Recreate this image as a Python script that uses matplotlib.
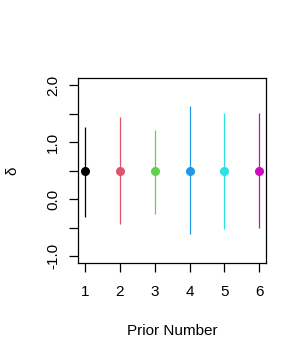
import matplotlib
matplotlib.use("Agg")
import matplotlib.pyplot as plt
import numpy as np

# R default palette (4.x)
COLORS = ["#000000", "#DF536B", "#61D04F", "#2297E6", "#28E2E5", "#CD0BBC"]

plt.rcParams.update({
    "font.family": ["Liberation Sans", "DejaVu Sans"],
    "font.size": 11,
    "axes.unicode_minus": False,
})

# ── Data ─────────────────────────────────────────────────────────────
prior = [1, 2, 3, 4, 5, 6]
delta_est = [0.49, 0.49, 0.49, 0.49, 0.49, 0.49]
delta_lo = [-0.31, -0.44, -0.26, -0.61, -0.53, -0.50]
delta_hi = [1.26, 1.44, 1.21, 1.63, 1.51, 1.51]

yticks_major = [-1.0, 0.0, 1.0, 2.0]
yticks_minor = [-0.5, 0.5, 1.5]

fig = plt.figure(figsize=(3.07, 3.61), dpi=100)
ax = fig.add_axes([0.2541, 0.2715, 0.6134, 0.5116])

for x, m, lo, hi, c in zip(prior, delta_est, delta_lo, delta_hi, COLORS):
    ax.vlines(x, lo, hi, color=c, lw=0.9)
    ax.plot(x, m, "o", color=c, ms=5.5, mec=c)

ax.set_xlim(0.8, 6.2)
ax.set_ylim(-1.12, 2.12)
ax.set_xticks(prior)
ax.set_yticks(yticks_major)
ax.set_yticklabels([f"{v:.1f}" for v in yticks_major])
ax.set_yticks(yticks_minor, minor=True)

for s in ax.spines.values():
    s.set_linewidth(0.9)
    s.set_color("black")

ax.tick_params(axis="x", length=6.8, width=0.9, pad=9, labelsize=11)
ax.tick_params(axis="y", which="both", length=6.8, width=0.9, pad=6,
               labelsize=11, labelrotation=90)
for lab in ax.get_yticklabels():
    lab.set_va("center")

ax.set_xlabel("Prior Number", fontsize=11, va="center")
ax.xaxis.set_label_coords(0.5, -0.368)
ax.set_ylabel("δ", fontsize=11, va="center")
ax.yaxis.set_label_coords(-0.348, 0.5)

fig.savefig("out.png", dpi=100)
plt.close(fig)
